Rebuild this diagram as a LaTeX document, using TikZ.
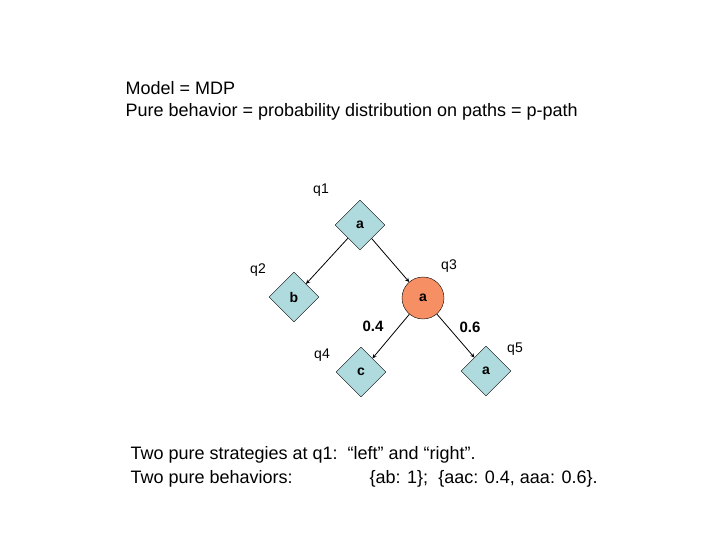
\documentclass[tikz,border=0pt]{standalone}
\usepackage{fontspec}
\setmainfont{Liberation Sans}
\usetikzlibrary{shapes.geometric,arrows.meta}
\definecolor{boxblue}{RGB}{176,219,222}
\definecolor{chance}{RGB}{247,143,100}
\begin{document}
\begin{tikzpicture}[x=1pt, y=-1pt,
  player/.style={diamond, draw, fill=boxblue, minimum width=50pt, minimum height=50pt, inner sep=0pt, font=\fontsize{14}{14}\selectfont\bfseries},
  rnd/.style={circle, draw, fill=chance, minimum size=42pt, inner sep=0pt, font=\fontsize{14}{14}\selectfont\bfseries},
  st/.style={font=\fontsize{14}{14}\selectfont},
  pr/.style={font=\fontsize{15}{15}\selectfont\bfseries},
  txt/.style={anchor=west, font=\fontsize{18}{18}\selectfont},
  edge/.style={draw, thick, -{Stealth[length=4pt,width=4pt]}}]
  \useasboundingbox (0,0) rectangle (720,540);
  % Heading
  \node[txt] (h1) at (122,88) {Model = MDP};
  \node[txt] (h2) at (122,112) {Pure behavior = probability distribution on paths = p-path};

  % States
  \node[player] (q1) at (360,225) {a};
  \node[player] (q2) at (294,297) {b};
  \node[rnd] (q3) at (423,298) {a};
  \node[player] (q4) at (361,372) {c};
  \node[player] (q5) at (486,371) {a};

  % State names
  \node[st] (l1) at (321,190) {q1};
  \node[st] (l2) at (258,270) {q2};
  \node[st] (l3) at (449,266) {q3};
  \node[st] (l4) at (322,355) {q4};
  \node[st] (l5) at (515,349) {q5};

  % Edges
  \path[edge] (q1) -- (q2);
  \path[edge] (q1) -- (q3);
  \path[edge] (q3) -- (q4);
  \path[edge] (q3) -- (q5);
  \node[pr] (p1) at (373,326) {0.4};
  \node[pr] (p2) at (470,327) {0.6};

  % Footer
  \node[txt] (f1) at (127,455) {Two pure strategies at q1:\ \ “left” and “right”.};
  \node[txt] (f2) at (127,479) {Two pure behaviors:};
  \node[txt] (f3) at (366,479) {\{ab: 1\};\ \ \{aac: 0.4, aaa: 0.6\}.};
\end{tikzpicture}
\end{document}
